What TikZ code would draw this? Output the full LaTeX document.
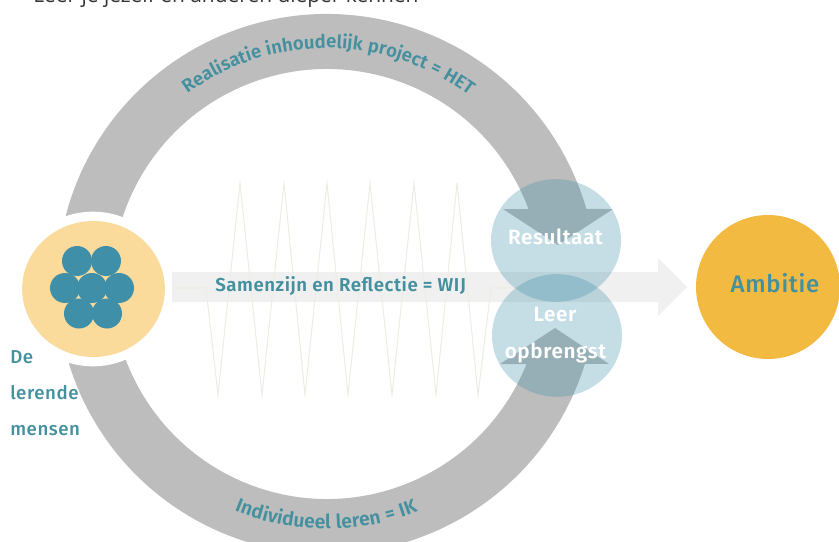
\documentclass[tikz,border=0pt]{standalone}
\usepackage{fontspec}
\setmainfont{PT Sans}
\newfontfamily\headfont{Open Sans}
\newfontfamily\dinfont[LetterSpace=3]{Fira Sans Medium}
\newfontfamily\dinbold[LetterSpace=3]{Fira Sans SemiBold}
\usetikzlibrary{decorations.text}
\usetikzlibrary{shapes.geometric}
\definecolor{ringgray}{HTML}{BDBDBD}
\definecolor{tealtext}{HTML}{44909F}
\definecolor{tealdot}{HTML}{3F8FA9}
\definecolor{bubble}{HTML}{3F8FA9}
\definecolor{sand}{HTML}{FADB9C}
\definecolor{gold}{HTML}{F3BA42}
\definecolor{zigzag}{HTML}{EEEDE3}
\definecolor{flow}{HTML}{F0F0F0}

\begin{document}
\begin{tikzpicture}[x=0.75pt,y=0.75pt,
    disc/.style={ellipse,inner sep=0pt,minimum width=#1},
    dot/.style={circle,fill=tealdot,inner sep=0pt,minimum size=22.5pt},
    bubbledisc/.style={disc=97.5pt,minimum height=92pt,fill=bubble,fill opacity=0.3},
    label/.style={font=\dinbold\fontsize{#1}{#1}\selectfont,text=white,inner sep=0pt},
    teal/.style={font=\dinfont\fontsize{#1}{#1}\selectfont,text=tealtext,inner sep=0pt}]

\clip (0,0) rectangle (839,-542);

\node [anchor=base west,inner sep=0pt,text=black!80,font=\headfont\fontsize{15.7}{15.7}\selectfont] (heading) at (33,-3) {Leer je jezelf en anderen dieper kennen};

\coordinate (ringc) at (327,-284);

% upper arrow
\coordinate (upperleft) at (503,-209);
\coordinate (upperright) at (613,-209);
\coordinate (uppertip) at (558,-245);
\fill [ringgray] ([shift={(ringc)}]170:270) arc [start angle=170,end angle=16.13,radius=270]
      -- (upperright) -- (uppertip) -- (upperleft)
      -- ([shift={(ringc)}]20.4:215) arc [start angle=20.4,end angle=170,radius=215] -- cycle;

% lower arrow
\coordinate (lowerleft) at (500,-364);
\coordinate (lowerright) at (609,-364);
\coordinate (lowertip) at (555,-328);
\fill [ringgray] ([shift={(ringc)}]190:270) arc [start angle=190,end angle=342.8,radius=270]
      -- (lowerright) -- (lowertip) -- (lowerleft)
      -- ([shift={(ringc)}]338.15:215) arc [start angle=338.15,end angle=190,radius=215] -- cycle;

\path [decorate,decoration={text along path,text align=center,
      text={|\dinbold\fontsize{13.9}{13.9}\selectfont\color{tealtext}|Realisatie inhoudelijk project = HET}}]
      ([shift={(ringc)}]139.6:236) arc [start angle=139.6,end angle=39.6,radius=236];
\path [decorate,decoration={text along path,text align=center,
      text={|\dinbold\fontsize{14.5}{14.5}\selectfont\color{tealtext}|Individueel leren = IK}}]
      ([shift={(ringc)}]239.8:245) arc [start angle=239.8,end angle=299.8,radius=245];

% white gap round the people
\node (halo) [disc=120pt,minimum height=116pt,fill=white] at (93,-289) {};
\node (people) [disc=107pt,minimum height=102pt,fill=sand] at (93.5,-289) {};
\foreach \x/\y in {77/261, 106/261, 65/288, 92/288, 119/288, 79/313.5, 107/313.5}
  \node [dot] (dot\x) at (\x,-\y) {};

% flow arrow to the ambition
\fill [flow] (172,-272) -- (658,-272) -- (658,-258) -- (687,-287)
      -- (658,-316) -- (658,-302) -- (172,-302) -- cycle;

\draw [zigzag,line width=0.8pt] (172,-288) -- (206,-288) -- (218,-395)
      -- (240,-183) -- (262,-395) -- (284,-183) -- (305,-395) -- (327,-183)
      -- (348,-395) -- (370,-183) -- (392,-395) -- (414,-183) -- (436,-395)
      -- (457,-183) -- (478,-395) -- (491,-288) -- (555,-288);

\node (result) [bubbledisc] at (556,-240.5) {};
\node (yield) [bubbledisc] at (557,-335.5) {};
\node (ambition) [disc=108pt,minimum height=108pt,fill=gold] at (768,-287) {};

\node [label=15.5] (resulttext) at (555.5,-237) {Resultaat};
\node [label=15.5] (yieldtext1) at (555,-315) {Leer};
\node [label=15.5] (yieldtext2) at (555.5,-353) {opbrengst};
\node [teal=18] (ambitiontext) at (775,-283) {Ambitie};
\node [teal=14,font=\dinbold\fontsize{14}{14}\selectfont,anchor=west] (flowtext) at (215,-286) {Samenzijn en Reflectie = WIJ};
\node [teal=14,anchor=base west] (peopletext1) at (10,-363) {De};
\node [teal=14,anchor=base west] (peopletext2) at (10,-399) {lerende};
\node [teal=14,anchor=base west] (peopletext3) at (10,-435) {mensen};

\end{tikzpicture}
\end{document}
